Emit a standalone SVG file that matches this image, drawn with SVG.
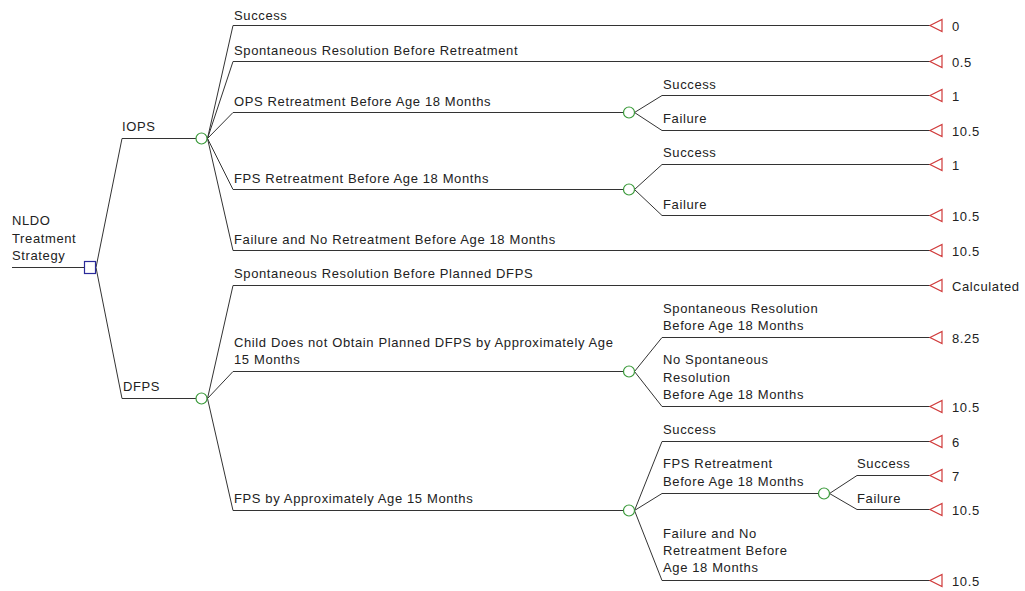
<svg xmlns="http://www.w3.org/2000/svg" width="1025" height="591" viewBox="0 0 1025 591">
<style>
text{font-family:"Liberation Sans",Arial,sans-serif;font-size:13px;letter-spacing:0.62px;fill:#222}
.ln{fill:none;stroke:#333;stroke-width:1}
.ch{fill:#fff;stroke:#3a9a3a;stroke-width:1.2}
.dc{fill:#fff;stroke:#2a2a9a;stroke-width:1.2}
.tm{fill:#fff;stroke:#d03a3a;stroke-width:1.2}
</style>
<rect width="1025" height="591" fill="#fff"/>
<defs>
<polygon id="tri" points="0,0 12,-6 12,6"/>
</defs>
<g id="connectors" class="ln">
<path d="M12,267.5H84"/>
<path d="M96,267.5L122,138.5H196"/>
<path d="M96,267.5L122,398.5H196"/>
<path d="M207.5,138.5L233,25.5H930"/>
<path d="M207.5,138.5L233,61.5H930"/>
<path d="M207.5,138.5L233,112.5H623"/>
<path d="M207.5,138.5L233,189.5H623"/>
<path d="M207.5,138.5L233,250.5H930"/>
<path d="M634.5,112.5L662,95.5H930"/>
<path d="M634.5,112.5L662,130.5H930"/>
<path d="M634.5,189.5L662,164.5H930"/>
<path d="M634.5,189.5L662,215.5H930"/>
<path d="M207.5,398.5L233,285.5H930"/>
<path d="M207.5,398.5L233,371.5H623"/>
<path d="M207.5,398.5L233,510.5H623"/>
<path d="M634.5,371.5L662,337.5H930"/>
<path d="M634.5,371.5L662,406.5H930"/>
<path d="M634.5,510.5L662,441.5H930"/>
<path d="M634.5,510.5L662,493.5H818"/>
<path d="M634.5,510.5L662,580.5H930"/>
<path d="M829.5,493.5L857,475.5H930"/>
<path d="M829.5,493.5L857,509.5H930"/>
</g>
<g id="root">
<rect class="dc" x="84.5" y="261.5" width="11" height="12"/>
<text x="12" y="225">NLDO</text>
<text x="12" y="243">Treatment</text>
<text x="12" y="260">Strategy</text>
</g>
<g id="iops">
<circle class="ch" cx="201.5" cy="138.5" r="5.5"/>
<text x="122" y="131">IOPS</text>
</g>
<g id="dfps">
<circle class="ch" cx="201.5" cy="398.5" r="5.5"/>
<text x="123" y="391">DFPS</text>
</g>
<g id="iops-success">
<text x="234" y="20">Success</text>
<use href="#tri" class="tm" x="930" y="25.5"/><text x="952" y="30.5">0</text>
</g>
<g id="iops-spont">
<text x="234" y="55">Spontaneous Resolution Before Retreatment</text>
<use href="#tri" class="tm" x="930" y="61.5"/><text x="952" y="66.5">0.5</text>
</g>
<g id="iops-ops">
<text x="234" y="106">OPS Retreatment Before Age 18 Months</text>
<circle class="ch" cx="629" cy="112.5" r="5.5"/>
</g>
<g id="ops-success">
<text x="663" y="89">Success</text>
<use href="#tri" class="tm" x="930" y="95.5"/><text x="952" y="100.5">1</text>
</g>
<g id="ops-failure">
<text x="663" y="123">Failure</text>
<use href="#tri" class="tm" x="930" y="130.5"/><text x="952" y="135.5">10.5</text>
</g>
<g id="iops-fps">
<text x="234" y="183">FPS Retreatment Before Age 18 Months</text>
<circle class="ch" cx="629" cy="189.5" r="5.5"/>
</g>
<g id="fps-success">
<text x="663" y="157">Success</text>
<use href="#tri" class="tm" x="930" y="164.5"/><text x="952" y="169.5">1</text>
</g>
<g id="fps-failure">
<text x="663" y="209">Failure</text>
<use href="#tri" class="tm" x="930" y="215.5"/><text x="952" y="220.5">10.5</text>
</g>
<g id="iops-failnoretreat">
<text x="234" y="244">Failure and No Retreatment Before Age 18 Months</text>
<use href="#tri" class="tm" x="930" y="250.5"/><text x="952" y="255.5">10.5</text>
</g>
<g id="dfps-spont">
<text x="234" y="278">Spontaneous Resolution Before Planned DFPS</text>
<use href="#tri" class="tm" x="930" y="285.5"/><text x="952" y="290.5">Calculated</text>
</g>
<g id="dfps-child">
<text x="234" y="347">Child Does not Obtain Planned DFPS by Approximately Age</text>
<text x="234" y="364">15 Months</text>
<circle class="ch" cx="629" cy="371.5" r="5.5"/>
</g>
<g id="child-spont">
<text x="663" y="313">Spontaneous Resolution</text>
<text x="663" y="330">Before Age 18 Months</text>
<use href="#tri" class="tm" x="930" y="337.5"/><text x="952" y="342.5">8.25</text>
</g>
<g id="child-nospont">
<text x="663" y="364">No Spontaneous</text>
<text x="663" y="382">Resolution</text>
<text x="663" y="399">Before Age 18 Months</text>
<use href="#tri" class="tm" x="930" y="406.5"/><text x="952" y="411.5">10.5</text>
</g>
<g id="dfps-fps">
<text x="234" y="503">FPS by Approximately Age 15 Months</text>
<circle class="ch" cx="629" cy="510.5" r="5.5"/>
</g>
<g id="dfps-fps-success">
<text x="663" y="434">Success</text>
<use href="#tri" class="tm" x="930" y="441.5"/><text x="952" y="446.5">6</text>
</g>
<g id="dfps-fps-retreat">
<text x="663" y="468">FPS Retreatment</text>
<text x="663" y="486">Before Age 18 Months</text>
<circle class="ch" cx="824" cy="493.5" r="5.5"/>
</g>
<g id="retreat-success">
<text x="857" y="468">Success</text>
<use href="#tri" class="tm" x="930" y="475.5"/><text x="952" y="480.5">7</text>
</g>
<g id="retreat-failure">
<text x="857" y="503">Failure</text>
<use href="#tri" class="tm" x="930" y="509.5"/><text x="952" y="514.5">10.5</text>
</g>
<g id="dfps-fps-failnoretreat">
<text x="663" y="538">Failure and No</text>
<text x="663" y="555">Retreatment Before</text>
<text x="663" y="572">Age 18 Months</text>
<use href="#tri" class="tm" x="930" y="580.5"/><text x="952" y="585.5">10.5</text>
</g>
</svg>
